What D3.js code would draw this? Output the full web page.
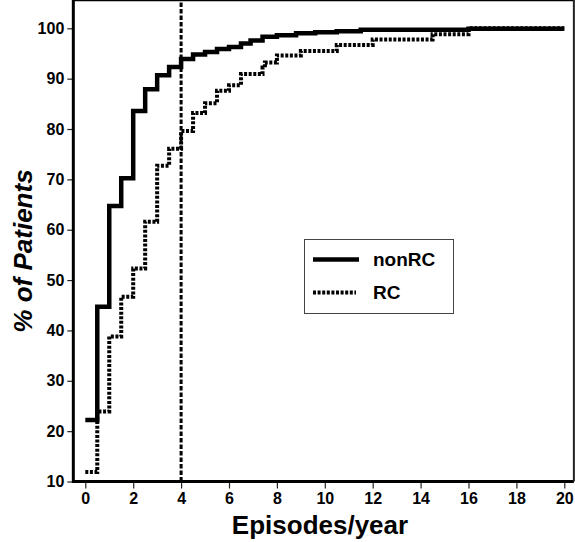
<!DOCTYPE html>
<html>
<head>
<meta charset="utf-8">
<script src="https://cdn.jsdelivr.net/npm/d3@7"></script>
<style>
  body { margin: 0; background: #fff; }
  text { font-family: "Liberation Sans", Arial, Helvetica, sans-serif; font-weight: bold; }
</style>
</head>
<body>
<svg id="chart" width="575" height="542"></svg>
<script>
// values (episodes/year -> cumulative % of patients)
var nonRcX = [0, 0.5, 1, 1.5, 2, 2.5, 3, 3.5, 4, 4.5, 5, 5.5, 6, 6.5, 6.9, 7.4, 8, 8.8, 9.6, 10.5, 11.5, 16, 20];
var nonRcY = [22.2, 44.7, 64.7, 70.2, 83.6, 87.9, 90.7, 92.3, 93.9, 94.8, 95.3, 95.9, 96.3, 97.0, 97.6, 98.3, 98.6, 99.0, 99.2, 99.4, 99.7, 99.9, 99.9];

var rcX = [0, 0.5, 1, 1.5, 2, 2.5, 3, 3.5, 4, 4.5, 5, 5.5, 6, 6.5, 7.4, 7.5, 8, 9, 10.5, 12, 14.5, 16, 20];
var rcY = [11.9, 23.9, 38.8, 46.7, 52.3, 61.6, 72.7, 76.1, 79.6, 83.2, 85.1, 87.6, 88.7, 90.9, 92.2, 93.2, 94.6, 95.5, 96.7, 97.8, 98.8, 100, 100];

var xTicks = [0, 2, 4, 6, 8, 10, 12, 14, 16, 18, 20];
var yTicks = [10, 20, 30, 40, 50, 60, 70, 80, 90, 100];
var cutoff = 4;

var svg = d3.select("#chart");

var x = d3.scaleLinear().domain([0, 20]).range([85.3, 564.3]);
var y = d3.scaleLinear().domain([10, 100]).range([481.5, 28.3]);

var left = x(-0.5), right = x(20.4), top = y(102.6), bottom = y(10);

// vertical cut-off line at 4 episodes
svg.append("line")
    .attr("x1", x(cutoff)).attr("x2", x(cutoff))
    .attr("y1", bottom).attr("y2", top)
    .attr("stroke", "#000").attr("stroke-width", 3)
    .attr("stroke-dasharray", "4.5,2");

var line = d3.line()
    .x(function(d) { return x(d[0]); })
    .y(function(d) { return y(d[1]); })
    .curve(d3.curveStepAfter);

svg.append("path")
    .datum(rcX.map(function(v, i) { return [v, rcY[i]]; }))
    .attr("d", line)
    .attr("fill", "none").attr("stroke", "#000")
    .attr("stroke-width", 4).attr("stroke-dasharray", "3,1.6");

svg.append("path")
    .datum(nonRcX.map(function(v, i) { return [v, nonRcY[i]]; }))
    .attr("d", line)
    .attr("fill", "none").attr("stroke", "#000")
    .attr("stroke-width", 4.5);

// axes
var xAxis = svg.append("g")
    .attr("transform", "translate(0," + bottom + ")")
    .call(d3.axisBottom(x).tickValues(xTicks).tickSize(7).tickPadding(4).tickFormat(d3.format("d")));
var xTop = svg.append("g")
    .attr("transform", "translate(0," + top + ")")
    .call(d3.axisTop(x).tickValues(xTicks).tickSize(8).tickFormat(""));
var yAxis = svg.append("g")
    .attr("transform", "translate(" + left + ",0)")
    .call(d3.axisLeft(y).tickValues(yTicks).tickSize(6).tickPadding(3).tickFormat(d3.format("d")));

[xAxis, xTop, yAxis].forEach(function(g) {
    g.select(".domain").remove();
    g.selectAll(".tick line").attr("stroke", "#222").attr("stroke-width", 1.2);
    g.selectAll("text").attr("font-size", 16).attr("fill", "#000")
        .style("font-family", "'Liberation Sans', Arial, sans-serif").style("font-weight", "bold");
});

// frame
svg.append("line").attr("x1", left).attr("x2", left).attr("y1", top - 1.5).attr("y2", bottom + 1.5)
    .attr("stroke", "#000").attr("stroke-width", 3);
svg.append("line").attr("x1", left).attr("x2", right).attr("y1", bottom).attr("y2", bottom)
    .attr("stroke", "#000").attr("stroke-width", 3);
svg.append("line").attr("x1", left).attr("x2", right).attr("y1", top).attr("y2", top)
    .attr("stroke", "#000").attr("stroke-width", 2.5);
svg.append("line").attr("x1", right).attr("x2", right).attr("y1", top).attr("y2", bottom)
    .attr("stroke", "#222").attr("stroke-width", 2);

// axis titles
svg.append("text")
    .attr("x", 320).attr("y", 534)
    .attr("text-anchor", "middle").attr("font-size", 26)
    .text("Episodes/year");

svg.append("text")
    .attr("transform", "translate(32,251) rotate(-90)")
    .attr("text-anchor", "middle").attr("font-size", 26)
    .attr("font-style", "italic")
    .text("% of Patients");

// legend
var legend = svg.append("g");
legend.append("rect")
    .attr("x", 304.5).attr("y", 239.5).attr("width", 149).attr("height", 74)
    .attr("fill", "#fff").attr("stroke", "#444").attr("stroke-width", 1);
legend.append("line")
    .attr("x1", 313).attr("x2", 359).attr("y1", 259.5).attr("y2", 259.5)
    .attr("stroke", "#000").attr("stroke-width", 4.5);
legend.append("line")
    .attr("x1", 313).attr("x2", 356).attr("y1", 292.5).attr("y2", 292.5)
    .attr("stroke", "#000").attr("stroke-width", 4).attr("stroke-dasharray", "3,1.6");
legend.append("text").attr("x", 373).attr("y", 266).attr("font-size", 19).text("nonRC");
legend.append("text").attr("x", 373).attr("y", 299).attr("font-size", 19).text("RC");
</script>
</body>
</html>
